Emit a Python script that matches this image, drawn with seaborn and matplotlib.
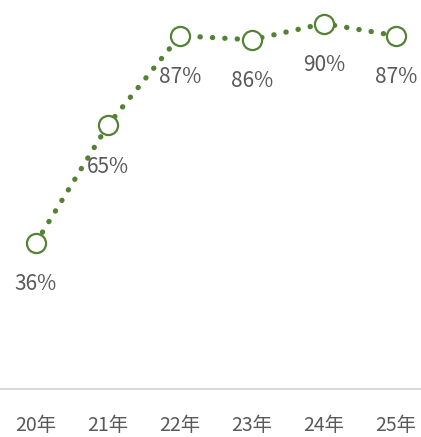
import pandas as pd
import matplotlib.pyplot as plt
import seaborn as sns

years = ['20年', '21年', '22年', '23年', '24年', '25年']
rates = [36, 65, 87, 86, 90, 87]
labels = ['36%', '65%', '87%', '86%', '90%', '87%']

green = '#548235'
grey = '#595959'

sns.set_theme(style='white')
plt.rcParams['font.family'] = ['Noto Sans CJK JP', 'DejaVu Sans']

df = pd.DataFrame({'year': years, 'rate': rates, 'idx': range(len(years))})

fig = plt.figure(figsize=(4.21, 4.37), dpi=100)
ax = fig.add_axes([0, 48 / 437, 1, 389 / 437])

sns.lineplot(data=df, x='idx', y='rate', ax=ax, color=green, linewidth=3.8)
for line in ax.lines:
    line.set_linestyle((0, (0.05, 2.3)))
    line.set_dash_capstyle('round')
sns.scatterplot(data=df, x='idx', y='rate', ax=ax, s=190, facecolor='white',
                edgecolor=green, linewidth=1.6, zorder=5)

for i, (v, lab) in enumerate(zip(rates, labels)):
    ax.annotate(lab, (i, v), xytext=(0, -30), textcoords='offset points',
                ha='center', va='center', fontsize=15, color=grey)

ax.set_xlim(-0.5, 5.35)
ax.set_ylim(0, 95.8)
ax.set_xticks(range(len(years)))
ax.set_xticklabels(years, fontsize=14, color=grey)
ax.set_yticks([])
ax.set_xlabel('')
ax.set_ylabel('')
ax.tick_params(axis='x', length=0, pad=19)
for s in ['top', 'right', 'left']:
    ax.spines[s].set_visible(False)
ax.spines['bottom'].set_color('#d9d9d9')
ax.spines['bottom'].set_linewidth(1.5)

fig.savefig('out.png', dpi=100)
